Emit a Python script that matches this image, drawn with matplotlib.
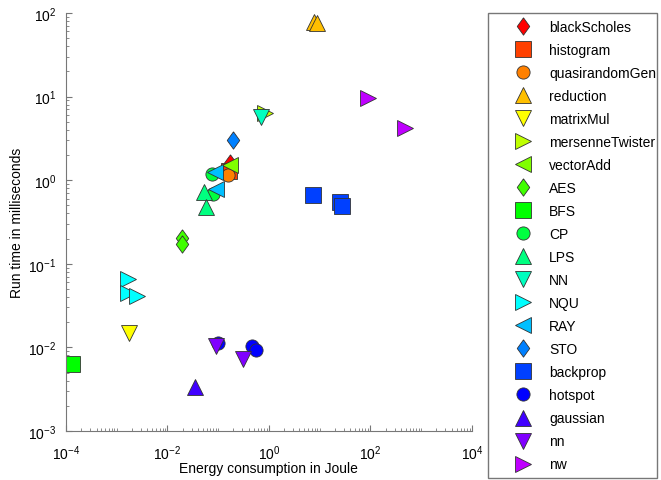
import colorsys
import matplotlib
matplotlib.use("Agg")
import matplotlib.pyplot as plt
from matplotlib.ticker import LogLocator, FixedLocator, NullFormatter
from matplotlib.lines import Line2D
from matplotlib.legend_handler import HandlerLine2D

plt.rcParams['font.family'] = ['Liberation Sans', 'DejaVu Sans']
plt.rcParams['mathtext.fontset'] = 'custom'
plt.rcParams['mathtext.rm'] = 'Liberation Sans'
plt.rcParams['mathtext.it'] = 'Liberation Sans'

# benchmark names, energy (J) and run time (ms) per kernel
names = ['blackScholes', 'histogram', 'quasirandomGen', 'reduction', 'matrixMul',
         'mersenneTwister', 'vectorAdd', 'AES', 'BFS', 'CP', 'LPS', 'NN', 'NQU',
         'RAY', 'STO', 'backprop', 'hotspot', 'gaussian', 'nn', 'nw']
markers = ['d', 's', 'o', '^', 'v', '>', '<', 'd', 's', 'o', '^', 'v', '>',
           '<', 'd', 's', 'o', '^', 'v', '>']

energy = [
    [0.17],
    [0.16],
    [0.155],
    [7.7, 9.0],
    [1.74e-3],
    [0.83],
    [0.17],
    [0.0195, 0.0195],
    [1.3e-4],
    [0.076, 0.078],
    [0.053, 0.057],
    [0.69],
    [1.65e-3, 1.65e-3, 2.5e-3],
    [0.087, 0.089],
    [0.195],
    [7.4, 25, 27.5],
    [0.10, 0.46, 0.55],
    [0.035],
    [0.092, 0.31],
    [89, 480],
]
runtime = [
    [1.6],
    [1.3],
    [1.15],
    [78, 76],
    [0.015],
    [6.3],
    [1.5],
    [0.204, 0.174],
    [0.0063],
    [1.17, 0.68],
    [0.72, 0.48],
    [5.7],
    [0.066, 0.045, 0.041],
    [1.25, 0.79],
    [3.0],
    [0.67, 0.55, 0.49],
    [0.0112, 0.0104, 0.0094],
    [0.0034],
    [0.0104, 0.0073],
    [9.6, 4.2],
]

diamond = [(0, 1), (0.72, 0), (0, -1), (-0.72, 0), (0, 1)]

fig = plt.figure(figsize=(6.61, 4.81), dpi=100)
ax = fig.add_axes([0.0998, 0.102, 0.614, 0.869])

for i, name in enumerate(names):
    col = colorsys.hsv_to_rgb(i * 15 / 360, 1, 1)
    mk = markers[i]
    ms = 11.5
    if mk == 'o':
        ms = 9.5
    elif mk == 's':
        ms = 11
    elif mk == 'd':
        mk = diamond
        ms = 12.5
    ax.plot(energy[i], runtime[i], linestyle='none', marker=mk,
            markersize=ms, markerfacecolor=col, markeredgecolor='#333333',
            markeredgewidth=0.6, label=name)

ax.set_xscale('log')
ax.set_yscale('log')
ax.set_xlim(1e-4, 1e4)
ax.set_ylim(1e-3, 1e2)

ax.xaxis.set_major_locator(FixedLocator([1e-4, 1e-2, 1e0, 1e2, 1e4]))
ax.xaxis.set_minor_locator(LogLocator(base=10, subs=[1, 2, 3, 4, 5, 6, 7, 8, 9], numticks=50))
ax.xaxis.set_minor_formatter(NullFormatter())
ax.yaxis.set_major_locator(LogLocator(base=10, numticks=10))
ax.yaxis.set_minor_locator(LogLocator(base=10, subs=[2, 3, 4, 5, 6, 7, 8, 9], numticks=50))
ax.yaxis.set_minor_formatter(NullFormatter())

for side in ['top', 'right']:
    ax.spines[side].set_visible(False)
for side in ['left', 'bottom']:
    ax.spines[side].set_color('#777777')
ax.tick_params(which='both', direction='in', colors='#777777', labelcolor='black',
               labelsize=10)
ax.tick_params(which='major', length=4)
ax.tick_params(which='minor', length=2)
ax.tick_params(axis='x', which='major', pad=9)
ax.tick_params(axis='y', which='major', pad=7)

ax.set_xlabel('Energy consumption in Joule', fontsize=10, labelpad=-1)
ax.set_ylabel('Run time in milliseconds', fontsize=10, labelpad=3)

leg = fig.legend(loc='upper left', bbox_to_anchor=(0.738, 0.0125, 0.256, 0.9585),
                 mode='expand', borderaxespad=0, fontsize=10, labelspacing=0.65,
                 handlelength=2.9, handletextpad=1.0, borderpad=0.5, fancybox=False,
                 edgecolor='#777777', framealpha=1,
                 handler_map={Line2D: HandlerLine2D(xpad=1.13)})
leg.get_frame().set_linewidth(1.0)

fig.savefig('out.png', dpi=100)
